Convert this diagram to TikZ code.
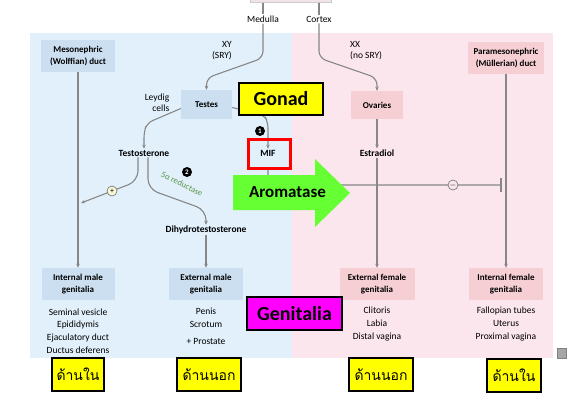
\documentclass[tikz,border=0pt]{standalone}
\usepackage{fontspec}
\setmainfont{Carlito}
\newfontfamily\thaifont[Script=Thai]{Loma}
\usetikzlibrary{arrows.meta}
\definecolor{bluebg}{RGB}{225,240,251}
\definecolor{pinkbg}{RGB}{252,230,237}
\definecolor{bluebox}{RGB}{204,223,241}
\definecolor{pinkbox}{RGB}{246,207,213}
\definecolor{linegray}{RGB}{135,135,135}
\definecolor{arrowgreen}{RGB}{102,255,51}
\definecolor{txtgreen}{RGB}{90,150,70}
\definecolor{plusfill}{RGB}{250,250,215}
\definecolor{topbox}{RGB}{240,228,230}
\definecolor{magentafill}{RGB}{255,0,255}
\definecolor{yellowfill}{RGB}{255,255,0}
\begin{document}
\begin{tikzpicture}[x=1pt,y=-1pt,
  boxtext/.style={font=\fontsize{9}{11.5}\selectfont\bfseries, align=center, inner sep=0pt},
  bbox/.style={boxtext, fill=bluebox, minimum height=32, minimum width=74},
  pbox/.style={boxtext, fill=pinkbox, minimum height=32, minimum width=75},
  lbl/.style={font=\fontsize{9.5}{11}\selectfont, align=center, inner sep=1pt},
  blbl/.style={font=\fontsize{9.5}{11}\selectfont\bfseries, align=center, inner sep=1pt},
  listtext/.style={font=\fontsize{9.5}{12.8}\selectfont, align=center, inner sep=0pt},
  line/.style={draw=linegray, line width=1.1pt},
  arr/.style={line, -{Stealth[length=4pt,width=3.5pt]}},
  ybox/.style={draw=black, line width=1.6pt, fill=yellowfill, inner sep=0pt},
  thaibox/.style={ybox, font=\thaifont\fontsize{14}{14}\selectfont, minimum height=33},
  numcirc/.style={circle, fill=black, text=white, inner sep=0pt, minimum size=10, font=\fontsize{7}{7}\selectfont\bfseries},
  signcirc/.style={circle, draw=linegray, line width=0.8pt, inner sep=0pt, minimum size=10, font=\fontsize{8}{8}\selectfont}
]
\useasboundingbox (0,0) rectangle (577,400);
\fill[white] (0,0) rectangle (577,400);
% backgrounds
\fill[bluebg] (30,33) rectangle (292,358);
\fill[pinkbg] (292,33) rectangle (553,358);
\fill[topbox] (250,0) rectangle (331,2.5);
\draw[draw=gray!40, line width=0.5pt] (250,0) -- (250,2.5) -- (331,2.5) -- (331,0);
\coordinate (medtop) at (263,2.5);
\coordinate (cortop) at (319,2.5);

% boxes
\node[bbox] (meso) at (78,56) {Mesonephric\\(Wolffian) duct};
\node[pbox, minimum width=76] (para) at (506,58) {Paramesonephric\\(Müllerian) duct};
\node[bbox, minimum width=51, minimum height=29] (testes) at (206.5,104.5) {Testes};
\node[pbox, minimum width=52, minimum height=28] (ovaries) at (377,105) {Ovaries};
\node[bbox, minimum width=73] (intm) at (78,284) {Internal male\\genitalia};
\node[bbox] (extm) at (206,284) {External male\\genitalia};
\node[pbox] (extf) at (377,284) {External female\\genitalia};
\node[pbox, minimum width=74] (intf) at (506,284) {Internal female\\genitalia};

% labels
\node[lbl] (medulla) at (263,19) {Medulla};
\node[lbl] (cortex) at (319,19) {Cortex};
\node[lbl, anchor=east, align=right] (xy) at (233,51) {XY\\(SRY)};
\node[lbl, anchor=west, align=left] (xx) at (349,51) {XX\\(no SRY)};
\node[lbl, align=right] (leydig) at (157,103) {Leydig\\cells};
\node[blbl] (testo) at (144,153) {Testosterone};
\node[blbl] (mif) at (268,153) {MIF};
\node[blbl] (estr) at (377,153) {Estradiol};
\node[blbl] (dht) at (206,230) {Dihydrotestosterone};

% lists
\node[listtext] (intmlist) at (78,331) {Seminal vesicle\\Epididymis\\Ejaculatory duct\\Ductus deferens};
\node[listtext] (extmlist) at (206,317.5) {Penis\\Scrotum};
\node[listtext] (prostate) at (206,341) {+ Prostate};
\node[listtext] (extflist) at (377,324) {Clitoris\\Labia\\Distal vagina};
\node[listtext] (intflist) at (506,324) {Fallopian tubes\\Uterus\\Proximal vagina};

% connectors
\draw[line] (medtop) -- (medulla.north);
\draw[line] (cortop) -- (cortex.north);
\draw[arr, rounded corners=7] (medulla.south) -- (263,58) -- (206.5,78) -- (testes.north);
\draw[arr, rounded corners=7] (cortex.south) -- (319,58) -- (377,78) -- (ovaries.north);
\draw[arr, rounded corners=6] ([yshift=-4pt]testes.west) -- (147,123) -- (144,132) -- (testo.north);
\draw[arr, rounded corners=6] ([yshift=-3pt]testes.east) -- (264,115) -- (268,122) -- (mif.north);
\node[numcirc] (n1) at (260,131) {1};
\draw[arr] (ovaries.south) -- (estr.north);
\draw[arr] (estr.south) -- (extf.north);
\draw[arr] (meso.south) -- (intm.north);
\draw[arr] (para.south) -- (intf.north);
\draw[arr] (dht.south) -- (extm.north);
% testosterone branches
\draw[arr, rounded corners=10] ([xshift=-6pt]testo.south) -- (138,181) -- (81,203);
\node[signcirc, fill=plusfill] (plus) at (112,191) {+};
\draw[arr, rounded corners=10] ([xshift=4pt]testo.south) -- (148,189) -- (206,210) -- (dht.north);
\node[font=\fontsize{8.5}{8.5}\selectfont, text=txtgreen, rotate=-26] (red) at (182,184) {5α reductase};
\node[numcirc] (n2) at (187,172) {2};

% MIF inhibition
\node[draw=red, line width=3pt, minimum width=42, minimum height=29, inner sep=0pt] (mifbox) at (269.5,154) {};
\coordinate (tbar) at (501,185);
\draw[line, rounded corners=4] (mifbox.south -| mif.south) -- (268,185) -- (tbar);
\draw[line] ([yshift=7pt]tbar) -- ([yshift=-7pt]tbar);
\node[signcirc, fill=pinkbg] (minus) at (453,185) {$-$};

% aromatase arrow
\fill[arrowgreen] (233,175) -- (315,175) -- (315,159) -- (350,193) -- (315,227) -- (315,210) -- (233,210) -- cycle;
\node[font=\fontsize{17}{17}\selectfont\bfseries] (arom) at (287.5,192.5) {Aromatase};

% callouts
\node[ybox, font=\fontsize{20}{20}\selectfont\bfseries, minimum width=84, minimum height=32] (gonad) at (281,99) {Gonad};
\node[ybox, fill=magentafill, font=\fontsize{20}{20}\selectfont\bfseries, minimum width=95, minimum height=33] (genit) at (294.5,313.5) {Genitalia};
\node[thaibox, minimum width=52] (t1) at (78,374.5) {ด้านใน};
\node[thaibox, minimum width=64] (t2) at (209,374.5) {ด้านนอก};
\node[thaibox, minimum width=64] (t3) at (381,374.5) {ด้านนอก};
\node[thaibox, minimum width=54] (t4) at (514,375.5) {ด้านใน};

% small icon
\node[fill=gray!70, draw=gray, minimum width=9, minimum height=10, inner sep=0pt] (icon) at (562,353) {};
\end{tikzpicture}
\end{document}
